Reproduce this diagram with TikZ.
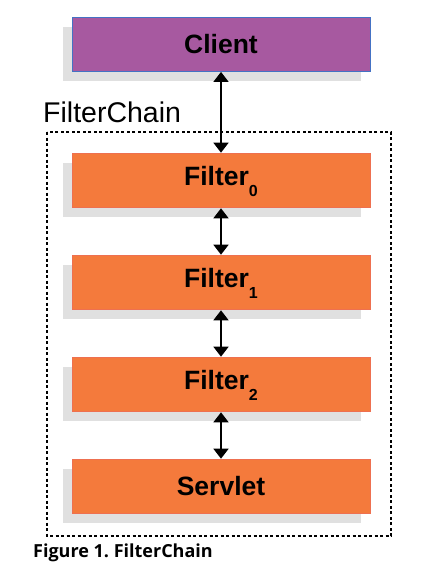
\documentclass[tikz,border=0pt]{standalone}
\usepackage{fontspec}
\setmainfont{Liberation Sans}
\newfontfamily\captionfont{Open Sans}
\usetikzlibrary{positioning,arrows.meta,shadows}
\definecolor{clientfill}{RGB}{167,89,160}
\definecolor{clientline}{RGB}{68,114,196}
\definecolor{filterfill}{RGB}{244,122,60}
\definecolor{filterline}{RGB}{238,112,80}
\definecolor{shadowgray}{RGB}{224,224,224}
\newcommand{\boxsub}[1]{\raisebox{-11pt}{\fontsize{16}{16}\selectfont #1}}
\frenchspacing

\begin{document}
\begin{tikzpicture}[x=1pt, y=-1pt,
  boxbase/.style={rectangle, minimum width=298pt, minimum height=54pt,
    inner sep=0pt, font=\fontsize{26.5}{26.5}\selectfont\bfseries,
    text height=18.9pt, text depth=0pt,
    drop shadow={shadow xshift=-9pt, shadow yshift=-9.5pt,
      fill=shadowgray, opacity=1}},
  client/.style={boxbase, fill=clientfill, draw=clientline, line width=0.8pt},
  filterbox/.style={boxbase, fill=filterfill, draw=filterline, line width=0.6pt},
  subbox/.style={filterbox, text depth=8pt},
  chainarrow/.style={{Triangle[width=15pt,length=10pt]}-{Triangle[width=15pt,length=10pt]},
    line width=1.5pt, shorten <=0.5pt, shorten >=0.5pt},
]
  \useasboundingbox (0,0) rectangle (428,571);

  % Outer chain frame
  \draw[line width=1.3pt, dash pattern=on 3pt off 2.5pt] (47,132) rectangle (391,536);
  \node[anchor=base west, inner sep=0pt, font=\fontsize{28.5}{28.5}\selectfont]
    (chainlabel) at (43,122) {FilterChain};

  % Client and filters
  \node[client] (client) at (221,44) {Client};
  \node[subbox] (f0) at (221,180.5) {Filter\boxsub{0}};
  \node[subbox] (f1) at (221,282.5) {Filter\boxsub{1}};
  \node[subbox] (f2) at (221,384.5) {Filter\boxsub{2}};
  \node[filterbox] (servlet) at (221,486.5) {Servlet};

  % Two-way arrows
  \draw[chainarrow] (client) -- (f0);
  \draw[chainarrow] (f0) -- (f1);
  \draw[chainarrow] (f1) -- (f2);
  \draw[chainarrow] (f2) -- (servlet);

  % Caption
  \node[anchor=base west, inner sep=0pt, font=\captionfont\bfseries\fontsize{18}{18}\selectfont]
    (caption) at (33,557) {Figure 1. FilterChain};
\end{tikzpicture}
\end{document}
